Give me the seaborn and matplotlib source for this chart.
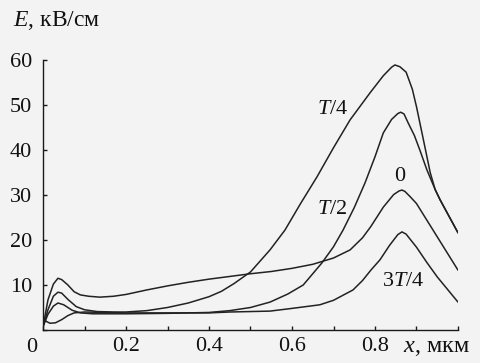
import numpy as np
import pandas as pd
import seaborn as sns
import matplotlib.pyplot as plt

# field profiles E(x) for four moments of the period
x_t2 = [0, 0.012, 0.025, 0.036, 0.045, 0.06, 0.075, 0.09, 0.11, 0.137, 0.17, 0.2, 0.25, 0.3,
        0.35, 0.4, 0.45, 0.5, 0.55, 0.6, 0.65, 0.7, 0.74, 0.77, 0.79, 0.82, 0.845, 0.858,
        0.865, 0.872, 0.885, 0.9, 0.925, 0.95, 0.975, 1.0]
e_t2 = [0.7, 6.7, 10.2, 11.5, 11.2, 10.0, 8.5, 7.8, 7.5, 7.3, 7.5, 7.9, 8.9, 9.8,
        10.6, 11.3, 11.9, 12.5, 13.0, 13.7, 14.6, 16.0, 17.8, 20.5, 23.0, 27.3, 30.1, 30.9,
        31.1, 30.8, 29.6, 28.1, 24.4, 20.7, 17.0, 13.3]

x_t4 = [0, 0.012, 0.025, 0.036, 0.045, 0.06, 0.08, 0.1, 0.13, 0.17, 0.2, 0.25, 0.3, 0.35,
        0.4, 0.43, 0.46, 0.5, 0.547, 0.583, 0.62, 0.66, 0.7, 0.74, 0.788, 0.82, 0.84, 0.848,
        0.86, 0.875, 0.89, 0.9, 0.915, 0.933, 0.945, 0.957, 0.98, 1.0]
e_t4 = [0.7, 4.5, 7.5, 8.4, 8.2, 6.8, 5.2, 4.5, 4.1, 4.0, 4.0, 4.3, 5.0, 6.0,
        7.4, 8.6, 10.3, 12.9, 17.8, 22.2, 28.0, 34.0, 40.5, 46.7, 52.7, 56.5, 58.4, 58.9,
        58.5, 57.3, 53.5, 49.6, 43.0, 35.0, 31.2, 28.9, 25.0, 21.6]

x_0 = [0, 0.012, 0.025, 0.036, 0.05, 0.07, 0.09, 0.12, 0.2, 0.3, 0.4, 0.45, 0.5, 0.547,
       0.59, 0.627, 0.672, 0.7, 0.723, 0.75, 0.776, 0.8, 0.82, 0.84, 0.855, 0.862, 0.87,
       0.88, 0.895, 0.908, 0.925, 0.945, 0.957, 0.98, 1.0]
e_0 = [0.7, 3.5, 5.3, 6.0, 5.6, 4.4, 3.8, 3.6, 3.6, 3.7, 3.9, 4.3, 5.0, 6.2,
       8.0, 10.0, 14.9, 18.5, 22.2, 27.2, 32.7, 38.5, 43.8, 46.8, 48.1, 48.4, 48.0,
       46.0, 43.2, 40.0, 35.6, 31.2, 28.9, 25.0, 21.6]

x_3t4 = [0, 0.008, 0.017, 0.03, 0.045, 0.06, 0.075, 0.1, 0.15, 0.2, 0.3, 0.4, 0.45, 0.5,
         0.547, 0.6, 0.667, 0.7, 0.747, 0.77, 0.79, 0.812, 0.835, 0.855, 0.865, 0.875, 0.9,
         0.925, 0.95, 0.975, 1.0]
e_3t4 = [2.8, 1.9, 1.5, 1.6, 2.3, 3.2, 3.8, 4.0, 3.9, 3.8, 3.8, 3.8, 4.0, 4.1,
         4.2, 4.8, 5.6, 6.6, 8.9, 11.0, 13.3, 15.6, 18.8, 21.2, 21.8, 21.3, 18.4,
         15.0, 11.8, 9.0, 6.2]

curve_names = ['T/2', 'T/4', '0', '3T/4']
curve_x = [x_t2, x_t4, x_0, x_3t4]
curve_e = [e_t2, e_t4, e_0, e_3t4]

# label text and position for each curve
label_text = [r'$T/4$', '0', r'$T/2$', r'$3T/4$']
label_x = [0.699, 0.860, 0.696, 0.867]
label_e = [48.9, 34.2, 26.7, 10.7]

frames = []
for name, xs, es in zip(curve_names, curve_x, curve_e):
    frames.append(pd.DataFrame({'x': xs, 'E': es, 'curve': name}))
df = pd.concat(frames, ignore_index=True)

sns.set_theme(style='ticks')
plt.rcParams['font.family'] = ['Liberation Serif', 'DejaVu Serif']
plt.rcParams['mathtext.fontset'] = 'custom'
plt.rcParams['mathtext.it'] = 'Liberation Serif:italic'
plt.rcParams['mathtext.rm'] = 'Liberation Serif'

bg = '#f3f3f4'
fig = plt.figure(figsize=(4.81, 3.63), dpi=100, facecolor=bg)
ax = fig.add_axes([43 / 481, 33 / 363, 415 / 481, 270 / 363], facecolor=bg)

sns.lineplot(data=df, x='x', y='E', units='curve', estimator=None,
             color='#222222', linewidth=1.1, ax=ax, legend=False)

ax.set_xlim(0, 1.0)
ax.set_ylim(0, 60)
ax.set_xlabel('')
ax.set_ylabel('')
sns.despine(ax=ax)
for s in ['left', 'bottom']:
    ax.spines[s].set_color('#1a1a1a')
    ax.spines[s].set_linewidth(1.0)

ax.set_xticks(np.arange(0, 1.01, 0.1))
ax.set_xticklabels(['', '', '0.2', '', '0.4', '', '0.6', '', '0.8', '', ''])
ax.set_yticks([0, 10, 20, 30, 40, 50, 60])
ax.set_yticklabels(['', '10', '20', '30', '40', '50', '60'])
ax.tick_params(direction='in', length=3, width=1.0, color='#1a1a1a',
               labelsize=16, labelcolor='#111111')
ax.tick_params(axis='x', pad=5)
ax.tick_params(axis='y', pad=8)

for t, lx, le in zip(label_text, label_x, label_e):
    ax.text(lx, le, t, fontsize=16, ha='center', va='center', color='#111111')

ax.text(-0.027, -0.063, '0', transform=ax.transAxes, fontsize=16,
        ha='center', va='center', color='#111111')
fig.text(13 / 481, 1 - 20 / 363, r'$E$, кВ/см', fontsize=17, ha='left', va='center',
         color='#111111')
fig.text(403 / 481, 1 - 347 / 363, r'$x$, мкм', fontsize=17.5, ha='left', va='center',
         color='#111111')

fig.savefig('out.png', dpi=100, facecolor=bg)
